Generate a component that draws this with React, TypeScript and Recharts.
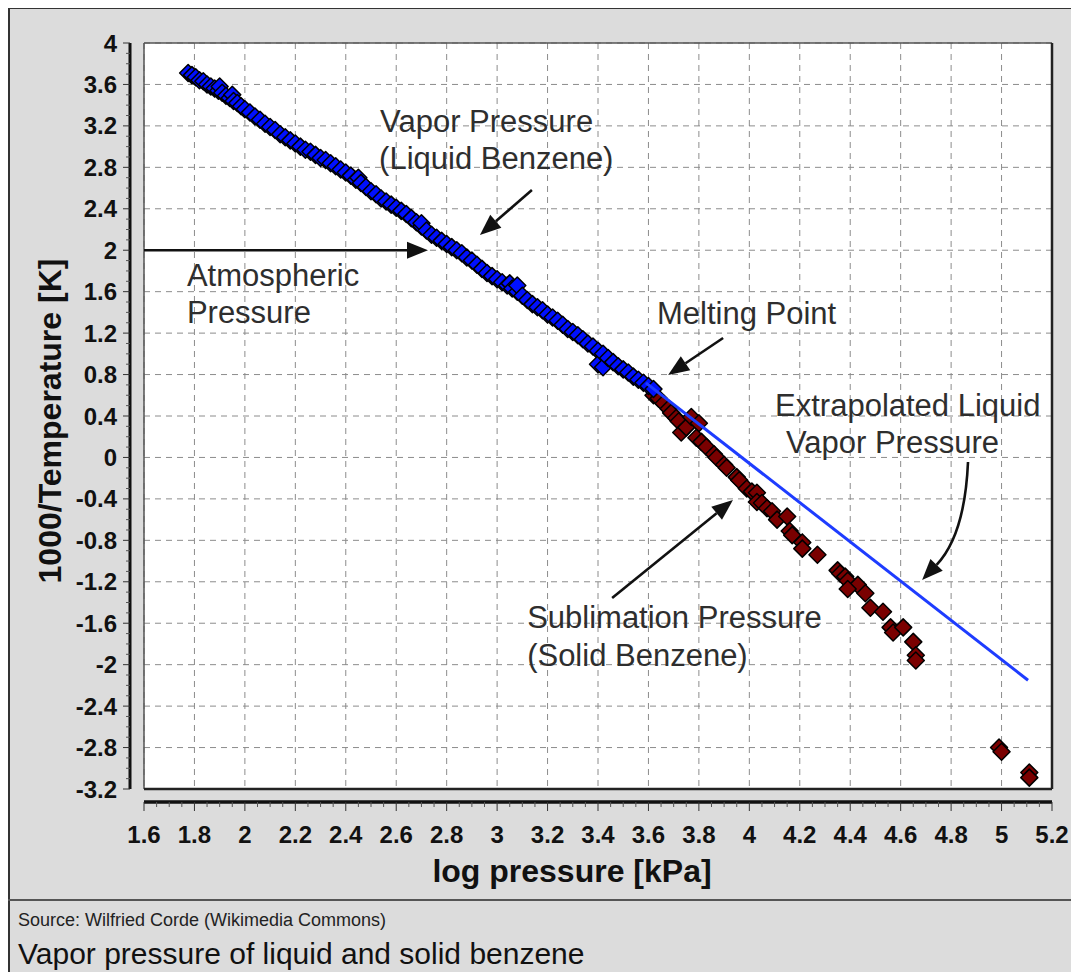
import React from "react";
import {
  ScatterChart,
  Scatter,
  XAxis,
  YAxis,
  CartesianGrid,
  ReferenceLine,
  ReferenceDot,
} from "recharts";

const FONT = '"Liberation Sans", Arial, sans-serif';

// axis ticks (major), minor ticks are drawn between them
const xTicks = [1.6, 1.8, 2, 2.2, 2.4, 2.6, 2.8, 3, 3.2, 3.4, 3.6, 3.8, 4, 4.2, 4.4, 4.6, 4.8, 5, 5.2];
const yTicks = [-3.2, -2.8, -2.4, -2, -1.6, -1.2, -0.8, -0.4, 0, 0.4, 0.8, 1.2, 1.6, 2, 2.4, 2.8, 3.2, 3.6, 4];

// liquid benzene: [log p (kPa), 1000/T]
const liquid: [number, number][] = [
  [1.775, 3.71], [1.79, 3.69], [1.805, 3.67], [1.82, 3.64], [1.835, 3.63], [1.85, 3.6],
  [1.865, 3.58], [1.88, 3.56], [1.895, 3.54], [1.9, 3.58], [1.91, 3.52], [1.925, 3.49],
  [1.94, 3.47], [1.95, 3.5], [1.955, 3.44], [1.97, 3.42], [1.985, 3.39], [2.0, 3.36],
  [2.02, 3.33], [2.04, 3.29], [2.06, 3.26], [2.08, 3.22], [2.1, 3.19], [2.12, 3.16],
  [2.14, 3.12], [2.16, 3.09], [2.18, 3.06], [2.2, 3.03], [2.22, 3.0], [2.24, 2.97],
  [2.26, 2.95], [2.28, 2.92], [2.3, 2.89], [2.32, 2.87], [2.34, 2.84], [2.36, 2.81],
  [2.38, 2.78], [2.4, 2.75], [2.42, 2.72], [2.44, 2.68], [2.45, 2.7], [2.46, 2.65],
  [2.48, 2.61], [2.5, 2.57], [2.52, 2.54], [2.54, 2.5], [2.56, 2.47], [2.58, 2.44],
  [2.6, 2.41], [2.62, 2.38], [2.64, 2.35], [2.66, 2.31], [2.68, 2.27], [2.7, 2.23],
  [2.7, 2.26], [2.72, 2.19], [2.74, 2.15], [2.76, 2.12], [2.78, 2.09], [2.8, 2.06],
  [2.82, 2.03], [2.84, 2.0], [2.86, 1.97], [2.88, 1.93], [2.9, 1.9], [2.92, 1.86],
  [2.94, 1.82], [2.96, 1.78], [2.98, 1.75], [3.0, 1.72], [3.02, 1.69], [3.04, 1.66],
  [3.05, 1.68], [3.06, 1.63], [3.08, 1.6], [3.08, 1.66], [3.1, 1.56], [3.12, 1.52],
  [3.14, 1.48], [3.16, 1.45], [3.18, 1.42], [3.2, 1.38], [3.22, 1.35], [3.24, 1.32],
  [3.26, 1.28], [3.28, 1.24], [3.3, 1.21], [3.32, 1.18], [3.34, 1.14], [3.36, 1.1],
  [3.38, 1.07], [3.4, 1.03], [3.4, 0.9], [3.42, 1.0], [3.42, 0.87], [3.44, 0.96],
  [3.46, 0.92], [3.48, 0.88], [3.5, 0.85], [3.52, 0.82], [3.54, 0.78], [3.56, 0.75],
  [3.58, 0.72], [3.6, 0.69], [3.62, 0.66],
];

// solid benzene: [log p (kPa), 1000/T]
const solid: [number, number][] = [
  [3.62, 0.6], [3.64, 0.57], [3.66, 0.52], [3.68, 0.47], [3.69, 0.43], [3.71, 0.38],
  [3.72, 0.35], [3.73, 0.24], [3.75, 0.29], [3.77, 0.39], [3.8, 0.33], [3.79, 0.19],
  [3.81, 0.15], [3.83, 0.1], [3.86, 0.03], [3.87, 0.0], [3.9, -0.07], [3.91, -0.1],
  [3.95, -0.19], [3.96, -0.22], [3.99, -0.3], [4.01, -0.33], [4.03, -0.34], [4.03, -0.43],
  [4.05, -0.44], [4.07, -0.49], [4.09, -0.52], [4.11, -0.6], [4.15, -0.57], [4.16, -0.71],
  [4.17, -0.75], [4.21, -0.82], [4.21, -0.88], [4.27, -0.94], [4.35, -1.09], [4.36, -1.12],
  [4.38, -1.15], [4.39, -1.19], [4.43, -1.23], [4.39, -1.27], [4.46, -1.31], [4.48, -1.45],
  [4.53, -1.49], [4.56, -1.64], [4.57, -1.69], [4.61, -1.64], [4.65, -1.78], [4.66, -1.91],
  [4.66, -1.96], [4.99, -2.8], [5.0, -2.84], [5.11, -3.04], [5.11, -3.09],
];

// extrapolated liquid vapor pressure line
const extrapolated: [number, number][] = [
  [3.59, 0.72],
  [5.105, -2.15],
];

// annotations (text baseline positions, data units)
const notes = [
  { text: "Vapor Pressure", x: 2.536, y: 3.141 },
  { text: "(Liquid Benzene)", x: 2.532, y: 2.784 },
  { text: "Atmospheric", x: 1.77, y: 1.655 },
  { text: "Pressure", x: 1.77, y: 1.298 },
  { text: "Melting Point", x: 3.634, y: 1.288 },
  { text: "Extrapolated Liquid", x: 4.102, y: 0.4 },
  { text: "Vapor Pressure", x: 4.145, y: 0.043 },
  { text: "Sublimation Pressure", x: 3.119, y: -1.646 },
  { text: "(Solid Benzene)", x: 3.119, y: -2.013 },
];

const arrows = [
  { x1: 1.6, y1: 2, x2: 2.726, y2: 2 },
  { x1: 3.138, y1: 2.581, x2: 2.932, y2: 2.147 },
  { x1: 3.896, y1: 1.153, x2: 3.678, y2: 0.796 },
  { x1: 3.456, y1: -1.357, x2: 3.935, y2: -0.411 },
];
const curvedArrow = { x1: 4.867, y1: -0.044, x2: 4.685, y2: -1.183 };

const PLOT_W = 908;
const PLOT_H = 746;
const X_MINOR = PLOT_W / 72; // 0.05 step over 3.6
const Y_MINOR = PLOT_H / 72; // 0.1 step over 7.2

const toPoints = (rows: [number, number][]) => rows.map(([x, y]) => ({ x, y }));

const diamond = (fill: string, s: number) => (props: any) => {
  const { cx, cy } = props;
  if (cx == null || cy == null) return <g />;
  return (
    <polygon
      points={`${cx},${cy - s} ${cx + s},${cy} ${cx},${cy + s} ${cx - s},${cy}`}
      fill={fill}
      stroke="#000"
      strokeWidth={1.5}
      strokeLinejoin="round"
    />
  );
};

const XTick = (props: any) => {
  const { x, y, payload } = props;
  const ay = y + 13;
  const last = payload.value === xTicks[xTicks.length - 1];
  return (
    <g>
      <line x1={x} x2={x} y1={ay} y2={ay + 9} stroke="#333" strokeWidth={1} />
      {!last &&
        [1, 2, 3].map((k) => (
          <line key={k} x1={x + k * X_MINOR} x2={x + k * X_MINOR} y1={ay} y2={ay + 5} stroke="#555" strokeWidth={1} />
        ))}
      <text x={x} y={y + 54} textAnchor="middle" fontSize={24} fontWeight="bold" fontFamily={FONT} fill="#111">
        {String(payload.value)}
      </text>
    </g>
  );
};

const YTick = (props: any) => {
  const { x, y, payload } = props;
  const ax = x - 14;
  const last = payload.value === yTicks[yTicks.length - 1];
  return (
    <g>
      <line x1={ax} x2={ax - 7} y1={y} y2={y} stroke="#333" strokeWidth={1} />
      {!last &&
        [1, 2, 3].map((k) => (
          <line key={k} x1={ax} x2={ax - 4} y1={y - k * Y_MINOR} y2={y - k * Y_MINOR} stroke="#555" strokeWidth={1} />
        ))}
      <text x={x - 27} y={y + 8.5} textAnchor="end" fontSize={24} fontWeight="bold" fontFamily={FONT} fill="#111">
        {String(payload.value)}
      </text>
    </g>
  );
};

const offsetLine = (dx: number, dy: number, w: number) => (p: any) => (
  <line x1={p.x1 + dx} y1={p.y1 + dy} x2={p.x2 + dx} y2={p.y2 + dy} stroke="#111" strokeWidth={w} />
);

const head = (fx: number, fy: number, x2: number, y2: number) => {
  const a = Math.atan2(y2 - fy, x2 - fx);
  const L = 21;
  const W = 8.5;
  const bx = x2 - L * Math.cos(a);
  const by = y2 - L * Math.sin(a);
  const px = -Math.sin(a) * W;
  const py = Math.cos(a) * W;
  return { bx, by, pts: `${x2},${y2} ${bx + px},${by + py} ${bx - px},${by - py}` };
};

const ArrowShape = (p: any) => {
  const { x1, y1, x2, y2 } = p;
  const h = head(x1, y1, x2, y2);
  return (
    <g>
      <line x1={x1} y1={y1} x2={h.bx} y2={h.by} stroke="#111" strokeWidth={2.6} />
      <polygon points={h.pts} fill="#111" />
    </g>
  );
};

const CurvedArrowShape = (p: any) => {
  const { x1, y1, x2, y2 } = p;
  const cx = x1 - 0.07 * (x1 - x2);
  const cy = y1 + 0.62 * (y2 - y1);
  const h = head(cx, cy, x2, y2);
  return (
    <g>
      <path d={`M${x1},${y1} Q${cx},${cy} ${h.bx},${h.by}`} fill="none" stroke="#111" strokeWidth={2.6} />
      <polygon points={h.pts} fill="#111" />
    </g>
  );
};

const noteShape = (text: string) => (p: any) => (
  <text x={p.cx} y={p.cy} fontSize={31} fontFamily={FONT} fill="#2e2e2e">
    {text}
  </text>
);

export default function App() {
  return (
    <div
      style={{
        position: "relative",
        width: 1071,
        height: 973,
        marginTop: -1,
        marginBottom: -8,
        background: "#dcdcdc",
        borderLeft: "2px solid #333",
        borderTop: "2px solid #333",
        boxSizing: "border-box",
        fontFamily: FONT,
      }}
    >
      <div style={{ position: "absolute", left: 0, top: 0 }}>
        <ScatterChart width={1069} height={890} margin={{ top: 34, right: 27, left: 0, bottom: 0 }}>
          <CartesianGrid stroke="#8c8c8c" strokeDasharray="6 5" fill="#ffffff" fillOpacity={1} />
          <XAxis
            type="number"
            dataKey="x"
            domain={[1.6, 5.2]}
            ticks={xTicks}
            interval={0}
            height={110}
            axisLine={false}
            tickLine={false}
            tickSize={0}
            tickMargin={0}
            tick={XTick}
            label={{
              content: (lp: any) => {
                const vb = lp.viewBox;
                return (
                  <text
                    x={vb.x + vb.width / 2 - 26}
                    y={vb.y + 93}
                    textAnchor="middle"
                    fontSize={32}
                    fontWeight="bold"
                    fontFamily={FONT}
                    fill="#111"
                  >
                    log pressure [kPa]
                  </text>
                );
              },
            }}
          />
          <YAxis
            type="number"
            dataKey="y"
            domain={[-3.2, 4]}
            ticks={yTicks}
            interval={0}
            width={134}
            axisLine={false}
            tickLine={false}
            tickSize={0}
            tickMargin={0}
            tick={YTick}
            label={{
              content: (lp: any) => {
                const vb = lp.viewBox;
                const cy = vb.y + vb.height / 2 + 5;
                return (
                  <text
                    x={51}
                    y={cy}
                    transform={`rotate(-90 51 ${cy})`}
                    textAnchor="middle"
                    fontSize={32}
                    fontWeight="bold"
                    fontFamily={FONT}
                    fill="#111"
                  >
                    1000/Temperature [K]
                  </text>
                );
              },
            }}
          />

          {/* plot frame */}
          <ReferenceLine x={1.6} stroke="#555" strokeWidth={1.5} />
          <ReferenceLine y={4} stroke="#555" strokeWidth={1.5} />
          <ReferenceLine x={5.2} stroke="#222" strokeWidth={2.5} />
          <ReferenceLine y={-3.2} stroke="#222" strokeWidth={2.5} />

          {/* detached axis lines */}
          <ReferenceLine segment={[{ x: 1.6, y: -3.2 }, { x: 1.6, y: 4 }]} shape={offsetLine(-14, 0, 3)} />
          <ReferenceLine segment={[{ x: 1.6, y: -3.2 }, { x: 5.2, y: -3.2 }]} shape={offsetLine(0, 13, 3.5)} />

          <Scatter data={toPoints(solid)} fill="#7a0000" shape={diamond("#7a0000", 8.5)} isAnimationActive={false} />
          <Scatter data={toPoints(liquid)} fill="#0010ff" shape={diamond("#0010ff", 8.5)} isAnimationActive={false} />
          <Scatter
            data={toPoints(extrapolated)}
            fill="#1e3cff"
            line={{ stroke: "#1e3cff", strokeWidth: 3 }}
            shape={() => <g />}
            isAnimationActive={false}
          />

          {arrows.map((a, i) => (
            <ReferenceLine
              key={`arrow-${i}`}
              segment={[{ x: a.x1, y: a.y1 }, { x: a.x2, y: a.y2 }]}
              shape={ArrowShape}
            />
          ))}
          <ReferenceLine
            segment={[
              { x: curvedArrow.x1, y: curvedArrow.y1 },
              { x: curvedArrow.x2, y: curvedArrow.y2 },
            ]}
            shape={CurvedArrowShape}
          />

          {notes.map((n, i) => (
            <ReferenceDot key={`note-${i}`} x={n.x} y={n.y} r={0} shape={noteShape(n.text)} />
          ))}
        </ScatterChart>
      </div>
      <svg style={{ position: "absolute", left: -2, top: 890 }} width={1071} height={81}>
        <line x1={0} x2={1071} y1={1} y2={1} stroke="#555" strokeWidth={2} />
        <text x={10} y={27} fontSize={18} fontFamily={FONT} fill="#222">
          Source: Wilfried Corde (Wikimedia Commons)
        </text>
        <text x={10} y={65} fontSize={30} fontFamily={FONT} fill="#111">
          Vapor pressure of liquid and solid benzene
        </text>
      </svg>
    </div>
  );
}
